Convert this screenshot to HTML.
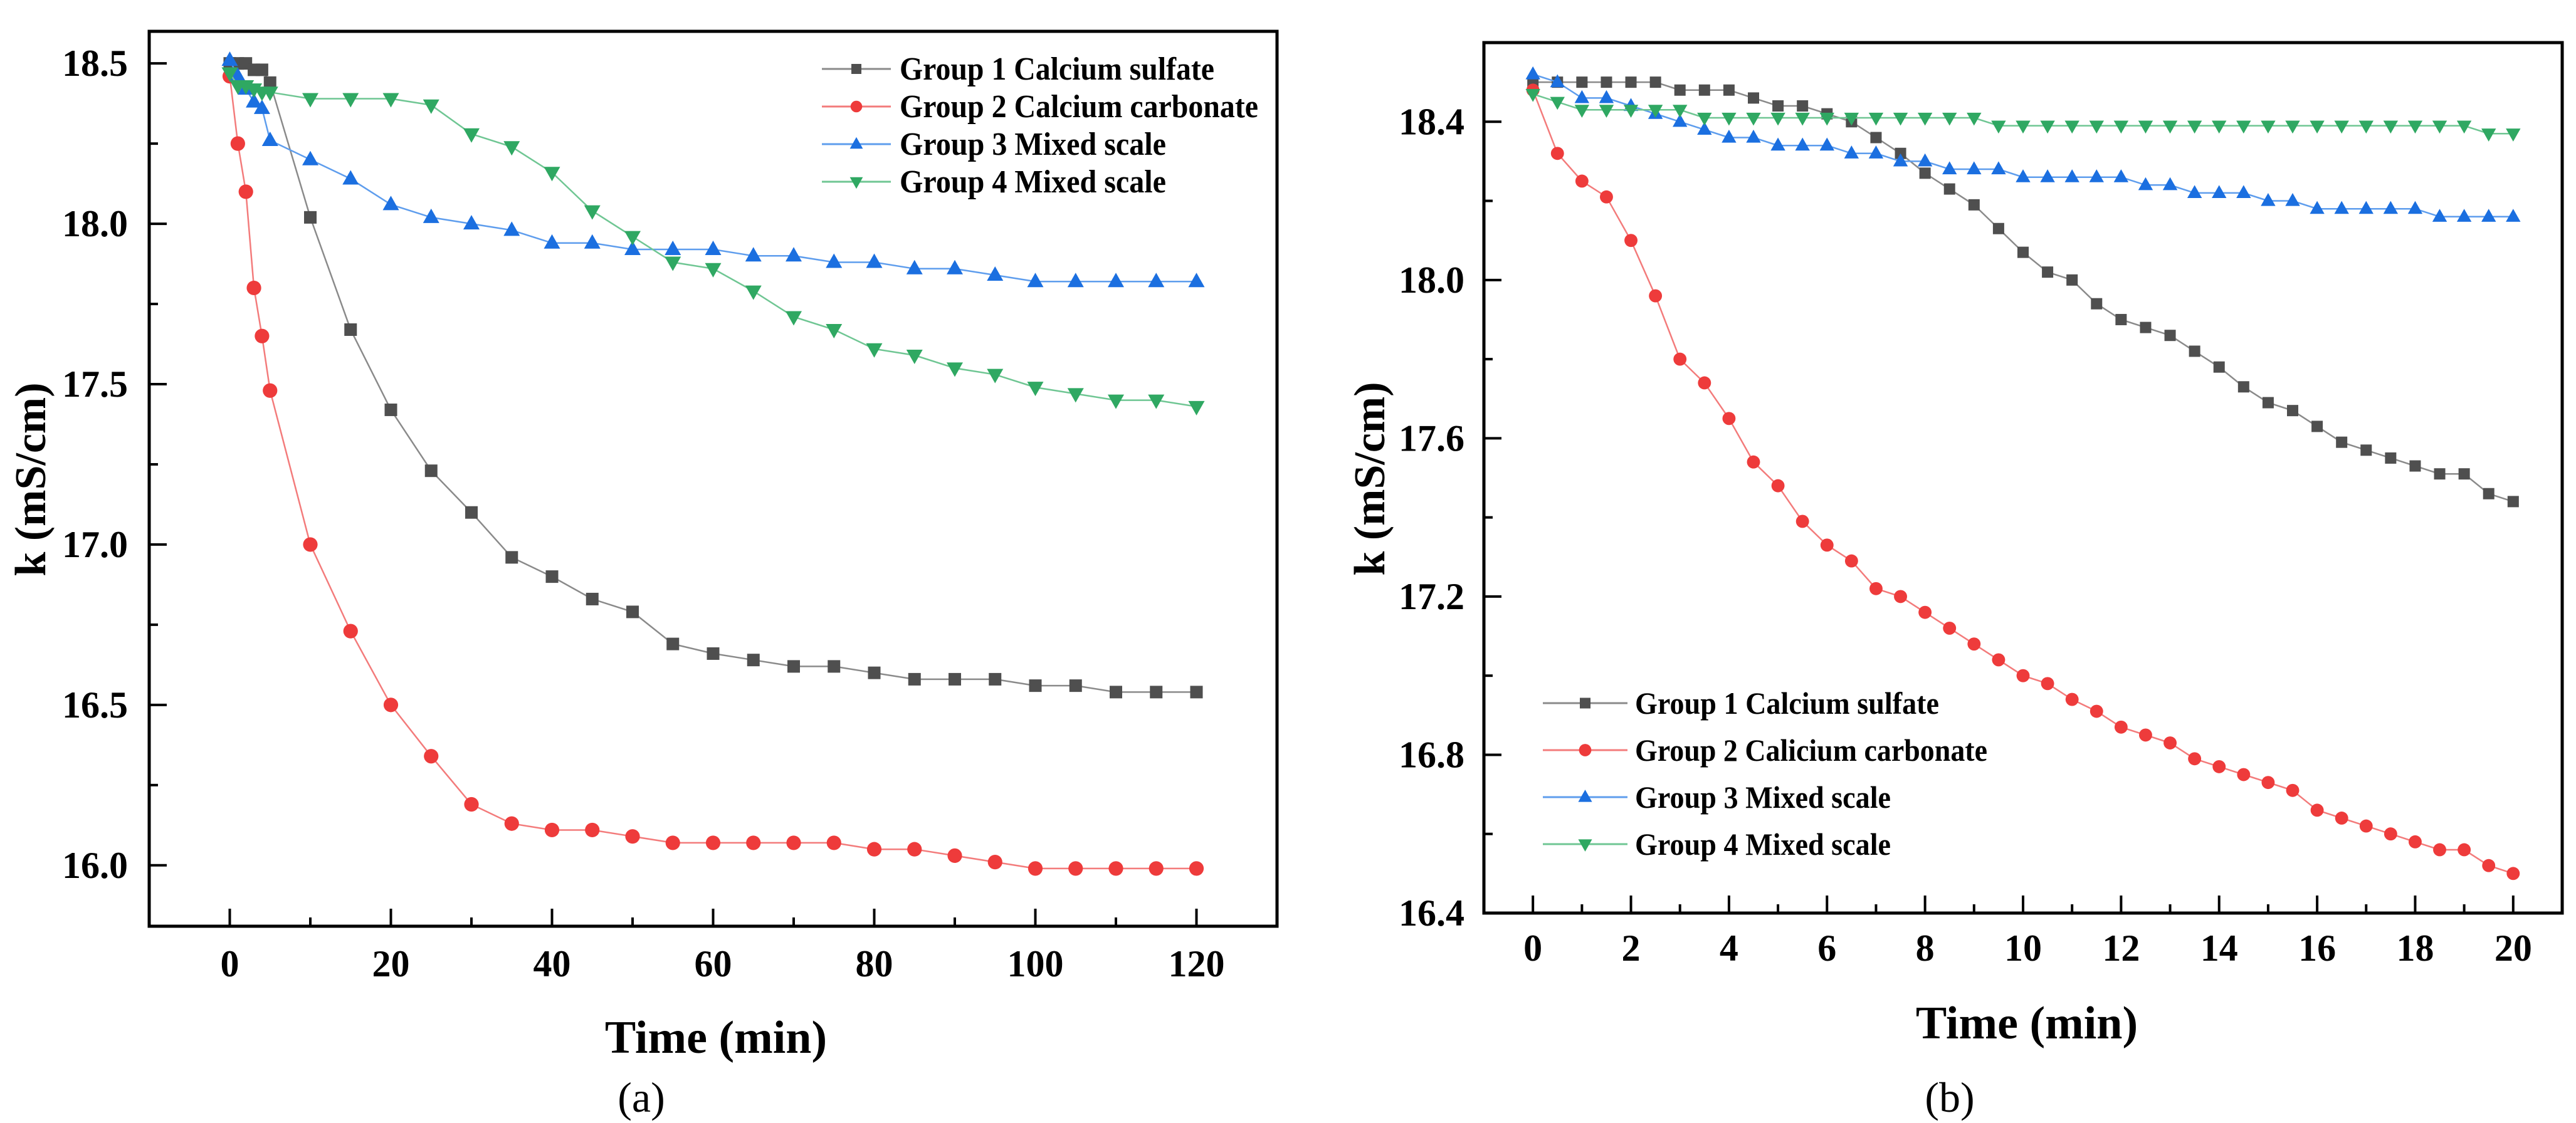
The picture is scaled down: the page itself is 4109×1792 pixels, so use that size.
<!DOCTYPE html>
<html><head><meta charset="utf-8">
<style>
html,body{margin:0;padding:0;background:#fff;}
svg{display:block;font-family:"Liberation Serif","DejaVu Serif",serif;}
svg text{font-family:"Liberation Serif","DejaVu Serif",serif;}
</style></head>
<body>
<svg id="fig" width="4109" height="1792" viewBox="0 0 4109 1792" xmlns="http://www.w3.org/2000/svg"></svg>
<script>
// ---------- Chart (a) data ----------
const timesA = [0,1,2,3,4,5,10,15,20,25,30,35,40,45,50,55,60,65,70,75,80,85,90,95,100,105,110,115,120];
const a_g1 = [18.50,18.50,18.50,18.48,18.48,18.44,18.02,17.67,17.42,17.23,17.10,16.96,16.90,16.83,16.79,16.69,16.66,16.64,16.62,16.62,16.60,16.58,16.58,16.58,16.56,16.56,16.54,16.54,16.54];
const a_g2 = [18.46,18.25,18.10,17.80,17.65,17.48,17.00,16.73,16.50,16.34,16.19,16.13,16.11,16.11,16.09,16.07,16.07,16.07,16.07,16.07,16.05,16.05,16.03,16.01,15.99,15.99,15.99,15.99,15.99];
const a_g3 = [18.51,18.46,18.42,18.38,18.36,18.26,18.20,18.14,18.06,18.02,18.00,17.98,17.94,17.94,17.92,17.92,17.92,17.90,17.90,17.88,17.88,17.86,17.86,17.84,17.82,17.82,17.82,17.82,17.82];
const a_g4 = [18.47,18.43,18.43,18.42,18.41,18.41,18.39,18.39,18.39,18.37,18.28,18.24,18.16,18.04,17.96,17.88,17.86,17.79,17.71,17.67,17.61,17.59,17.55,17.53,17.49,17.47,17.45,17.45,17.43];
const xTicksA = [0,20,40,60,80,100,120];
const yTicksA = ["16.0","16.5","17.0","17.5","18.0","18.5"];

// ---------- Chart (b) data ----------
const timesB = [0,0.5,1,1.5,2,2.5,3,3.5,4,4.5,5,5.5,6,6.5,7,7.5,8,8.5,9,9.5,10,10.5,11,11.5,12,12.5,13,13.5,14,14.5,15,15.5,16,16.5,17,17.5,18,18.5,19,19.5,20];
const b_g1 = [18.50,18.50,18.50,18.50,18.50,18.50,18.48,18.48,18.48,18.46,18.44,18.44,18.42,18.40,18.36,18.32,18.27,18.23,18.19,18.13,18.07,18.02,18.00,17.94,17.90,17.88,17.86,17.82,17.78,17.73,17.69,17.67,17.63,17.59,17.57,17.55,17.53,17.51,17.51,17.46,17.44];
const b_g2 = [18.48,18.32,18.25,18.21,18.10,17.96,17.80,17.74,17.65,17.54,17.48,17.39,17.33,17.29,17.22,17.20,17.16,17.12,17.08,17.04,17.00,16.98,16.94,16.91,16.87,16.85,16.83,16.79,16.77,16.75,16.73,16.71,16.66,16.64,16.62,16.60,16.58,16.56,16.56,16.52,16.50];
const b_g3 = [18.52,18.50,18.46,18.46,18.44,18.42,18.40,18.38,18.36,18.36,18.34,18.34,18.34,18.32,18.32,18.30,18.30,18.28,18.28,18.28,18.26,18.26,18.26,18.26,18.26,18.24,18.24,18.22,18.22,18.22,18.20,18.20,18.18,18.18,18.18,18.18,18.18,18.16,18.16,18.16,18.16];
const b_g4 = [18.47,18.45,18.43,18.43,18.43,18.43,18.43,18.41,18.41,18.41,18.41,18.41,18.41,18.41,18.41,18.41,18.41,18.41,18.41,18.39,18.39,18.39,18.39,18.39,18.39,18.39,18.39,18.39,18.39,18.39,18.39,18.39,18.39,18.39,18.39,18.39,18.39,18.39,18.39,18.37,18.37];
const xTicksB = [0,2,4,6,8,10,12,14,16,18,20];
const yTicksB = ["16.4","16.8","17.2","17.6","18.0","18.4"];

const legendA = ["Group 1 Calcium sulfate","Group 2 Calcium carbonate","Group 3 Mixed scale","Group 4 Mixed scale"];
const legendB = ["Group 1 Calcium sulfate","Group 2 Calicium carbonate","Group 3 Mixed scale","Group 4 Mixed scale"];

const NS = "http://www.w3.org/2000/svg";
const FONT = '"Liberation Serif", "DejaVu Serif", serif';
const svg = document.getElementById('fig');
const lineCol = ["#8a8a8a","#f37b7b","#5e9ded","#6fc693"];
const markCol = ["#4f4f4f","#ee3b3b","#1b6fe0","#2fa862"];
const shapes = ["square","circle","tri-up","tri-down"];

function mk(tag, attrs, parent){
  const e = document.createElementNS(NS, tag);
  for (const k in attrs) e.setAttribute(k, attrs[k]);
  if (tag === 'text') e.setAttribute('font-family', FONT);
  (parent||svg).appendChild(e);
  return e;
}
function marker(g, shape, x, y, col, s){
  let e;
  if (shape==="square") e = mk('rect',{x:x-s*0.5,y:y-s*0.5,width:s,height:s,fill:col},g);
  else if (shape==="circle") e = mk('circle',{cx:x,cy:y,r:s*0.58,fill:col},g);
  else if (shape==="tri-up") e = mk('polygon',{points:`${x},${y-s*0.7} ${x-s*0.65},${y+s*0.45} ${x+s*0.65},${y+s*0.45}`,fill:col},g);
  else e = mk('polygon',{points:`${x},${y+s*0.7} ${x-s*0.65},${y-s*0.45} ${x+s*0.65},${y-s*0.45}`,fill:col},g);
  return e;
}

function chart(cfg){
  const {L,R,T,B,xmin,xmax,ymin,ymax,times,series,xTicks,xMinorStep,yTicks,yMinorStep,name} = cfg;
  const sx = v => L + (v-xmin)/(xmax-xmin)*(R-L);
  const sy = v => B - (v-ymin)/(ymax-ymin)*(B-T);
  const g = mk('g',{});
  
  
  series.forEach((vals, si) => {
    const sg = mk('g',{},g);
    
    
    const pts = vals.map((v,i)=> sx(times[i]).toFixed(1)+','+sy(v).toFixed(1)).join(' ');
    const pl = mk('polyline',{points:pts,fill:'none',stroke:lineCol[si],'stroke-width':2.5},sg);
    
    
    vals.forEach((v,i)=>{
      const m = marker(sg, shapes[si], sx(times[i]), sy(v), markCol[si], cfg.ms);
      
      
    });
  });
  const fr = mk('rect',{x:L,y:T,width:R-L,height:B-T,fill:'none',stroke:'#000','stroke-width':5},g);
  
  
  for (let v = xTicks[0]; v <= xTicks[xTicks.length-1]+1e-9; v += xMinorStep){
    const major = xTicks.some(t=>Math.abs(t-v)<1e-6);
    const tk = mk('line',{x1:sx(v),x2:sx(v),y1:B,y2:B-(major?28:14),stroke:'#000','stroke-width':4},g);
    
    
  }
  xTicks.forEach(t=>{
    const tx = mk('text',{x:sx(t),y:cfg.xLabY,'text-anchor':'middle','font-size':cfg.tickFs,'font-weight':'bold',fill:'#000'},g);
    tx.textContent = String(t);
    
    
  });
  const y0 = parseFloat(yTicks[0]), y1 = parseFloat(yTicks[yTicks.length-1]);
  for (let v = y0; v <= y1+1e-9; v += yMinorStep){
    const major = yTicks.some(t=>Math.abs(parseFloat(t)-v)<1e-6);
    const tk = mk('line',{x1:L,x2:L+(major?28:14),y1:sy(v),y2:sy(v),stroke:'#000','stroke-width':4},g);
    
    
  }
  yTicks.forEach(t=>{
    const tx = mk('text',{x:cfg.yLabX,y:sy(parseFloat(t))+20,'text-anchor':'end','font-size':cfg.tickFs,'font-weight':'bold',fill:'#000'},g);
    tx.textContent = t;
    
    
  });
  const xt = mk('text',{x:cfg.xTitle[0],y:cfg.xTitle[1],'text-anchor':'middle','font-size':74,'font-weight':'bold',fill:'#000'},g);
  xt.textContent = 'Time (min)';
  
  
  const yt = mk('text',{x:0,y:0,transform:`translate(${cfg.yTitle[0]},${cfg.yTitle[1]}) rotate(-90)`,'text-anchor':'middle','font-size':70,'font-weight':'bold',fill:'#000'},g);
  yt.textContent = 'k (mS/cm)';
  
  
  const lg = mk('g',{},g);
  
  
  cfg.legend.forEach((lab,i)=>{
    const y = cfg.lg.y0 + i*cfg.lg.dy;
    const eg = mk('g',{},lg);
    
    
    mk('line',{x1:cfg.lg.x1,x2:cfg.lg.x2,y1:y,y2:y,stroke:lineCol[i],'stroke-width':3},eg);
    marker(eg, shapes[i], (cfg.lg.x1+cfg.lg.x2)/2, y, markCol[i], cfg.lg.ms);
    const t = mk('text',{x:cfg.lg.tx,y:y+17,'font-size':cfg.lg.fs,'font-weight':'bold',fill:'#000'},eg);
    if (cfg.lg.widths) { t.setAttribute('textLength', cfg.lg.widths[i]); t.setAttribute('lengthAdjust','spacingAndGlyphs'); }
    t.textContent = lab;
  });
  const cp = mk('text',{x:cfg.cap[0],y:cfg.cap[1],'text-anchor':'middle','font-size':68,fill:'#000'},g);
  cp.textContent = cfg.capText;
  
  
}

chart({name:'chart-a',L:238,R:2037,T:50,B:1478,xmin:-10,xmax:130,ymin:15.81,ymax:18.6,
  times:timesA,series:[a_g1,a_g2,a_g3,a_g4],xTicks:xTicksA,xMinorStep:10,yTicks:yTicksA,yMinorStep:0.25,
  ms:20,tickFs:60,xLabY:1558,yLabX:204,xTitle:[1142,1680],yTitle:[72,765],
  legend:legendA,lg:{x1:1311,x2:1421,tx:1435,y0:110,dy:60,fs:52,ms:16,widths:[502,572,425,425]},
  cap:[1023,1774],capText:'(a)'});

chart({name:'chart-b',L:2367,R:4087,T:68,B:1457,xmin:-1,xmax:21,ymin:16.4,ymax:18.6,
  times:timesB,series:[b_g1,b_g2,b_g3,b_g4],xTicks:xTicksB,xMinorStep:1,yTicks:yTicksB,yMinorStep:0.2,
  ms:18,tickFs:60,xLabY:1533,yLabX:2336,xTitle:[3233,1657],yTitle:[2208,764],
  legend:legendB,lg:{x1:2461,x2:2596,tx:2608,y0:1122,dy:75,fs:50,ms:17,widths:[485,562,408,408]},
  cap:[3110,1774],capText:'(b)'});
</script>
</body></html>
